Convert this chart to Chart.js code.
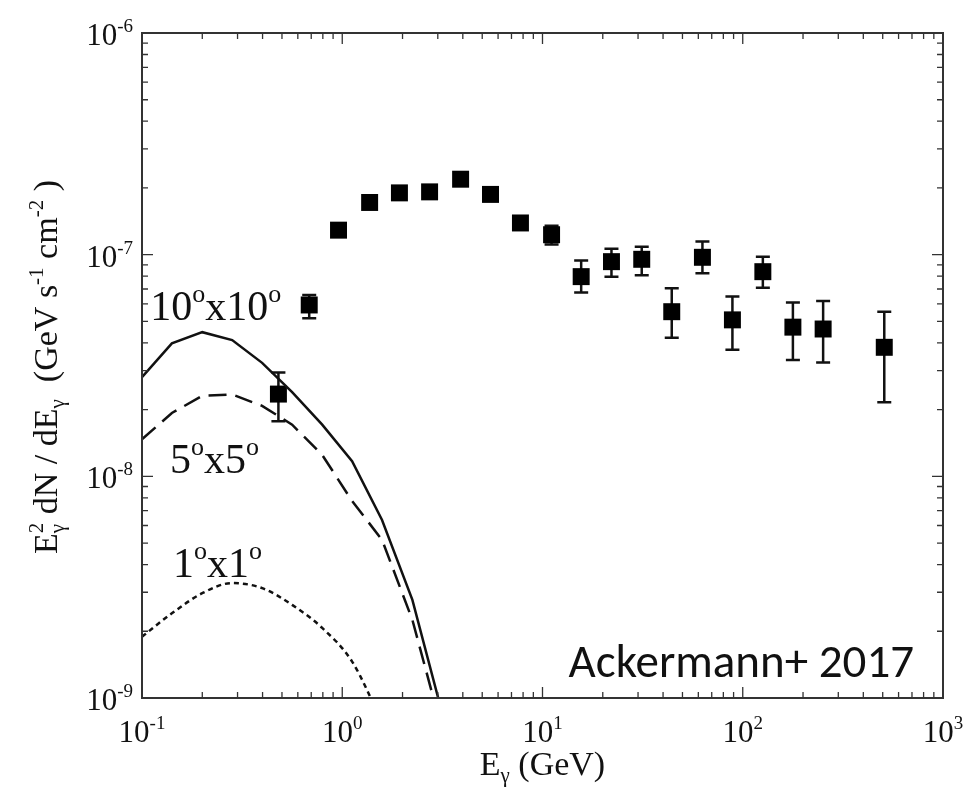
<!DOCTYPE html>
<html>
<head>
<meta charset="utf-8">
<script src="https://cdn.jsdelivr.net/npm/chart.js@4.4.0/dist/chart.umd.min.js"></script>
<style>
  body { margin: 0; background: #fff; }
</style>
</head>
<body>
<canvas id="grafico" width="967" height="791"></canvas>
<script>
// Puntos Fermi-LAT (E en GeV, E^2 dN/dE en GeV s^-1 cm^-2)
const energia = [0.48, 0.684, 0.958, 1.37, 1.93, 2.73, 3.90, 5.50, 7.76, 11.1, 15.6, 22.1, 31.3, 44.2, 62.9, 88.8, 126, 178, 252, 509];
const flujo = [2.35e-8, 5.93e-8, 1.29e-7, 1.72e-7, 1.90e-7, 1.92e-7, 2.19e-7, 1.87e-7, 1.39e-7, 1.23e-7, 7.96e-8, 9.30e-8, 9.53e-8, 5.53e-8, 9.73e-8, 5.08e-8, 8.38e-8, 4.71e-8, 4.62e-8, 3.82e-8];
const flujoMin = [1.77e-8, 5.16e-8, null, null, null, null, null, null, null, 1.11e-7, 6.75e-8, 7.96e-8, 8.07e-8, 4.22e-8, 8.24e-8, 3.72e-8, 7.10e-8, 3.35e-8, 3.26e-8, 2.16e-8];
const flujoMax = [2.94e-8, 6.58e-8, null, null, null, null, null, null, null, 1.35e-7, 9.40e-8, 1.064e-7, 1.087e-7, 7.05e-8, 1.148e-7, 6.47e-8, 9.79e-8, 6.09e-8, 6.18e-8, 5.53e-8];

// Curvas del modelo para cada región
const energiaModelo = [0.1, 0.141, 0.2, 0.282, 0.398, 0.562, 0.794, 1.12, 1.58, 2.24, 3.16];
const modelo10x10 = [2.80e-8, 3.98e-8, 4.47e-8, 4.12e-8, 3.25e-8, 2.40e-8, 1.71e-8, 1.17e-8, 6.35e-9, 2.77e-9, 8.5e-10];
const modelo5x5 = [1.47e-8, 1.93e-8, 2.31e-8, 2.34e-8, 2.08e-8, 1.71e-8, 1.25e-8, 7.74e-9, 5.17e-9, 2.25e-9, 7.1e-10];
const modelo1x1 = [1.89e-9, 2.41e-9, 2.97e-9, 3.30e-9, 3.13e-9, 2.63e-9, 2.07e-9, 1.46e-9, 7.8e-10];

// Exponentes de las marcas principales
const expX = [-1, 0, 1, 2, 3];
const expY = [-9, -8, -7, -6];

// Etiquetas de las curvas: [número, x (GeV), y (flujo)]
const etiquetas = [
  ['10', 0.11, 5.08e-8],
  ['5', 0.138, 1.035e-8],
  ['1', 0.143, 3.52e-9]
];
const nota = 'Ackermann+ 2017';

const serif = '"Liberation Serif", "Times New Roman", serif';
const negro = '#111';

function pares(xs, ys) {
  return ys.map((y, i) => ({ x: xs[i], y: y }));
}

// Dibuja texto con sub/superíndices
function dibujarRuns(ctx, runs, x, y, tam, alinear) {
  const chico = Math.round(tam * 0.62);
  const medir = [];
  let total = 0;
  runs.forEach(r => {
    ctx.font = `${r.s ? chico : tam}px ${serif}`;
    const w = ctx.measureText(r.t).width;
    medir.push(w);
    if (!r.apilar) total += w;
  });
  let cx = x;
  if (alinear === 'center') cx = x - total / 2;
  if (alinear === 'right') cx = x - total;
  ctx.textAlign = 'left';
  ctx.textBaseline = 'alphabetic';
  let ultimo = cx;
  runs.forEach((r, i) => {
    ctx.font = `${r.s ? chico : tam}px ${serif}`;
    let dy = 0;
    if (r.s === 'sup') dy = -tam * 0.42;
    if (r.s === 'sub') dy = tam * 0.22;
    const px = r.apilar ? ultimo : cx;
    ctx.fillText(r.t, px, y + dy);
    if (!r.apilar) { ultimo = cx; cx += medir[i]; }
  });
}

const marco = {
  id: 'marco',
  beforeDatasetsDraw(chart) {
    // barras de error
    const ctx = chart.ctx;
    const x = chart.scales.x, y = chart.scales.y;
    ctx.save();
    ctx.strokeStyle = negro;
    ctx.lineWidth = 2.5;
    energia.forEach((e, i) => {
      if (flujoMin[i] == null) return;
      const px = x.getPixelForValue(e);
      const y1 = y.getPixelForValue(flujoMin[i]);
      const y2 = y.getPixelForValue(flujoMax[i]);
      ctx.beginPath();
      ctx.moveTo(px, y1); ctx.lineTo(px, y2);
      ctx.moveTo(px - 7, y1); ctx.lineTo(px + 7, y1);
      ctx.moveTo(px - 7, y2); ctx.lineTo(px + 7, y2);
      ctx.stroke();
    });
    ctx.restore();
  },
  afterDraw(chart) {
    const ctx = chart.ctx;
    const a = chart.chartArea;
    const x = chart.scales.x, y = chart.scales.y;
    ctx.save();
    ctx.strokeStyle = '#333';
    ctx.lineWidth = 2;
    ctx.strokeRect(a.left, a.top, a.right - a.left, a.bottom - a.top);

    // marcas hacia adentro en los cuatro lados
    ctx.lineWidth = 1.3;
    ctx.beginPath();
    for (let d = expX[0]; d < expX[expX.length - 1]; d++) {
      for (let m = 1; m <= 9; m++) {
        const px = x.getPixelForValue(m * Math.pow(10, d));
        const L = m === 1 ? 11 : 6;
        ctx.moveTo(px, a.bottom); ctx.lineTo(px, a.bottom - L);
        ctx.moveTo(px, a.top); ctx.lineTo(px, a.top + L);
      }
    }
    for (let d = expY[0]; d < expY[expY.length - 1]; d++) {
      for (let m = 1; m <= 9; m++) {
        const py = y.getPixelForValue(m * Math.pow(10, d));
        const L = m === 1 ? 11 : 6;
        ctx.moveTo(a.left, py); ctx.lineTo(a.left + L, py);
        ctx.moveTo(a.right, py); ctx.lineTo(a.right - L, py);
      }
    }
    ctx.stroke();

    ctx.fillStyle = negro;
    // etiquetas del eje x
    expX.forEach(e => {
      const px = x.getPixelForValue(Math.pow(10, e));
      dibujarRuns(ctx, [{ t: '10' }, { t: String(e), s: 'sup' }], px, a.bottom + 44, 31, 'center');
    });
    // etiquetas del eje y
    expY.forEach(e => {
      const py = y.getPixelForValue(Math.pow(10, e));
      dibujarRuns(ctx, [{ t: '10' }, { t: String(e), s: 'sup' }], a.left - 9, py + 12, 31, 'right');
    });

    // títulos de ejes
    dibujarRuns(ctx, [{ t: 'E' }, { t: 'γ', s: 'sub' }, { t: ' (GeV)' }], (a.left + a.right) / 2, 775, 34, 'center');
    ctx.save();
    ctx.translate(57, 367);
    ctx.rotate(-Math.PI / 2);
    dibujarRuns(ctx, [
      { t: 'E' }, { t: '2', s: 'sup' }, { t: 'γ', s: 'sub', apilar: true },
      { t: ' dN / dE' }, { t: 'γ', s: 'sub' }, { t: '  (GeV s' }, { t: '-1', s: 'sup' },
      { t: ' cm' }, { t: '-2', s: 'sup' }, { t: ' )' }
    ], 0, 0, 34, 'center');
    ctx.restore();

    // nombres de las curvas
    etiquetas.forEach(([n, ex, fy]) => {
      const px = x.getPixelForValue(ex);
      const py = y.getPixelForValue(fy);
      dibujarRuns(ctx, [{ t: n }, { t: 'o', s: 'sup' }, { t: 'x' + n }, { t: 'o', s: 'sup' }], px, py, 42, 'left');
    });

    // referencia
    ctx.font = '47px Carlito, Lato, sans-serif';
    ctx.textAlign = 'left';
    ctx.fillText(nota, x.getPixelForValue(13.5), y.getPixelForValue(1.25e-9));
    ctx.restore();
  }
};

const ctx = document.getElementById('grafico').getContext('2d');
new Chart(ctx, {
  type: 'scatter',
  data: {
    datasets: [
      {
        label: '10x10',
        data: pares(energiaModelo, modelo10x10),
        showLine: true, pointRadius: 0,
        borderColor: negro, borderWidth: 2.5
      },
      {
        label: '5x5',
        data: pares(energiaModelo, modelo5x5),
        showLine: true, pointRadius: 0,
        borderColor: negro, borderWidth: 2.5, borderDash: [18, 9]
      },
      {
        label: '1x1',
        data: pares(energiaModelo, modelo1x1),
        showLine: true, pointRadius: 0, cubicInterpolationMode: 'monotone', tension: 0.4,
        borderColor: negro, borderWidth: 2.5, borderDash: [5, 4]
      },
      {
        label: 'Fermi-LAT',
        data: pares(energia, flujo),
        pointStyle: 'rect', pointRadius: 12,
        backgroundColor: '#000', borderWidth: 0
      }
    ]
  },
  options: {
    responsive: false,
    animation: false,
    events: [],
    layout: { padding: { left: 142, top: 33, right: 24, bottom: 93 } },
    plugins: { legend: { display: false }, tooltip: { enabled: false } },
    scales: {
      x: { type: 'logarithmic', min: 0.1, max: 1000, display: false },
      y: { type: 'logarithmic', min: 1e-9, max: 1e-6, display: false }
    }
  },
  plugins: [marco]
});
</script>
</body>
</html>
